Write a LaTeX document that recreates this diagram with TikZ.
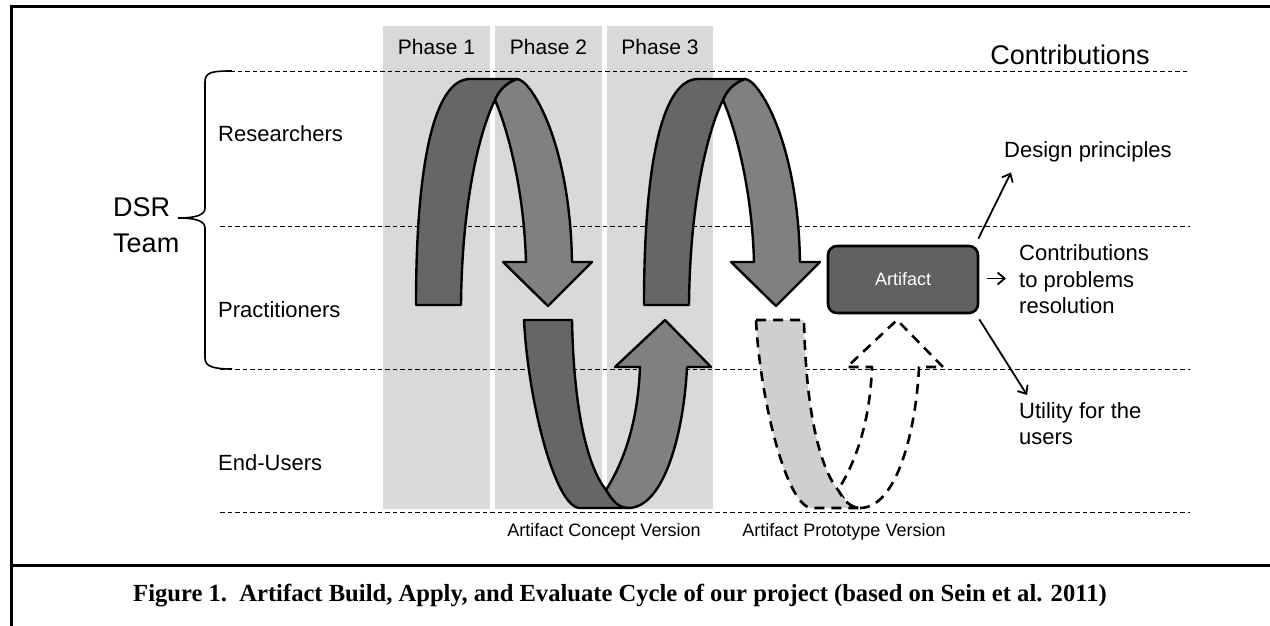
\documentclass[tikz,border=0pt]{standalone}
\usepackage{fontspec}
\setmainfont{Liberation Sans}
\newfontfamily\capfont{Liberation Serif}
\usetikzlibrary{backgrounds,calc,arrows.meta}

\begin{document}
\begin{tikzpicture}[x=1pt,y=-1pt]
    % `column' is the grey background of one phase.
    % `band' and `light band' are the two halves of a cycle arrow.
    % `proto' is used for the dashed cycle of the prototype.
    \tikzstyle{column} = [fill=gray!30]
    \tikzstyle{band} = [fill=black!60,draw=black,line width=2.4pt,line join=round]
    \tikzstyle{light band} = [band,fill=black!50]
    \tikzstyle{proto} = [draw=black,line width=2.6pt,line join=round,dash pattern=on 10pt off 7pt]
    \tikzstyle{level} = [line width=0.9pt,dash pattern=on 4.5pt off 3pt]
    \tikzstyle{role} = [font=\fontsize{22}{26.5}\selectfont,anchor=west,inner sep=2pt,align=left]
    \tikzstyle{phase} = [font=\fontsize{21}{25}\selectfont]
    \tikzstyle{version} = [font=\fontsize{18}{22}\selectfont]
    \tikzstyle{flow} = [line width=1.8pt,-{Straight Barb[length=7pt,width=12pt]}]
    \tikzstyle{artifact} = [draw,line width=2.6pt,fill=black!62,rounded corners=9pt,
      minimum width=150pt,minimum height=67pt,text=white,font=\fontsize{18}{22}\selectfont]
    %
    \useasboundingbox (0,0) rectangle (1270,626);
    \draw[line width=3pt] (1270,7) -- (11,7) -- (11,626);
    \draw[line width=3pt] (11,565) -- (1270,565);

    % Phases.
    \node[phase] (ph1) at (436.5,47) {Phase 1};
    \node[phase] (ph2) at (548.5,47) {Phase 2};
    \node[phase] (ph3) at (660,47) {Phase 3};
    \node[font=\fontsize{27}{32}\selectfont] (contrib) at (1070,55) {Contributions};

    % Levels.
    \draw[level] (230,71) -- (1190,71);
    \draw[level] (220,226) -- (1190,226);
    \draw[level] (220,369) -- (1190,369);
    \draw[level] (220,512) -- (1190,512);
    \draw[line width=1.6pt] (232,71) .. controls (212,71) and (205,72) .. (205,82) -- (205,208)
      .. controls (205,215) and (196,218) .. (178,218) .. controls (196,218) and (205,221) .. (205,228)
      -- (205,358) .. controls (205,366) and (212,369) .. (232,369);
    \node[role,font=\fontsize{27}{36}\selectfont] (team) at (111,225) {DSR\\Team};
    \node[role] (res) at (216,134) {Researchers};
    \node[role] (pra) at (216,310) {Practitioners};
    \node[role] (end) at (216,463) {End-Users};

    % Build cycles, top.
    \foreach \dx in {0,228} {
      \begin{scope}[xshift=\dx pt]
        \path[light band] (517,79) .. controls (530,79) and (570,140) .. (572,262) -- (592,262)
          -- (548,306) -- (503,262) -- (526,262) .. controls (524,190) and (508,130) .. (495,100)
          .. controls (498,92) and (505,83) .. (517,79) -- cycle;
        \path[band] (416,305) .. controls (416,160) and (435,79) .. (470,79) -- (517,79)
          .. controls (505,83) and (498,92) .. (495,100) .. controls (480,130) and (462,200) .. (461,305) -- cycle;
      \end{scope}
    }

    % Apply cycle, bottom.
    \path[light band] (628,508) .. controls (665,508) and (684,430) .. (687,367) -- (711,367)
      -- (665,320) -- (615,367) -- (640,367) .. controls (638,420) and (625,460) .. (606,490)
      .. controls (612,500) and (618,508) .. (628,508) -- cycle;
    \path[band] (524,320) -- (572,320) .. controls (574,420) and (590,470) .. (606,490)
      .. controls (612,500) and (618,508) .. (628,508) -- (580,508)
      .. controls (555,508) and (528,400) .. (524,320) -- cycle;
    \begin{scope}[xshift=232pt]
      \path[proto] (628,508) .. controls (665,508) and (684,430) .. (687,367) -- (711,367)
        -- (665,320) -- (615,367) -- (640,367) .. controls (638,420) and (625,460) .. (606,490)
        .. controls (612,500) and (618,508) .. (628,508) -- cycle;
      \path[proto,fill=black!19] (524,320) -- (572,320) .. controls (574,420) and (590,470) .. (606,490)
        .. controls (612,500) and (618,508) .. (628,508) -- (580,508)
        .. controls (555,508) and (528,400) .. (524,320) -- cycle;
    \end{scope}
    \node[version] (cv) at (604,532) {Artifact Concept Version};
    \node[version] (pv) at (844,532) {Artifact Prototype Version};

    % Artifact and its contributions.
    \node[artifact] (art) at (903,279.5) {Artifact};
    \node[role] (dp) at (1002,152) {Design principles};
    \node[role] (cp) at (1017,279.5) {Contributions\\to problems\\resolution};
    \node[role] (ut) at (1017,423.5) {Utility for the\\users};
    \draw[flow] ($(art.north east)+(-1,-6)$) -- ($(dp.south west)+(9,8)$);
    \draw[flow] ($(art.east)+(8,-1)$) -- ($(cp.west)+(-11,-1)$);
    \draw[flow] ($(art.south east)+(0,5)$) -- ($(ut.north west)+(10,-5)$);

    \begin{pgfonlayer}{background}
      % Grey columns behind the phases.
      \fill[column] (383,26) rectangle (490,509);
      \fill[column] (495,26) rectangle (602,509);
      \fill[column] (607,26) rectangle (713,509);
    \end{pgfonlayer}

    \node[font=\capfont\bfseries\fontsize{24.6}{29}\selectfont] (cap) at (620,596)
      {Figure 1.\ \ Artifact Build, Apply, and Evaluate Cycle of our project (based on Sein et al. 2011)};
\end{tikzpicture}
\end{document}
